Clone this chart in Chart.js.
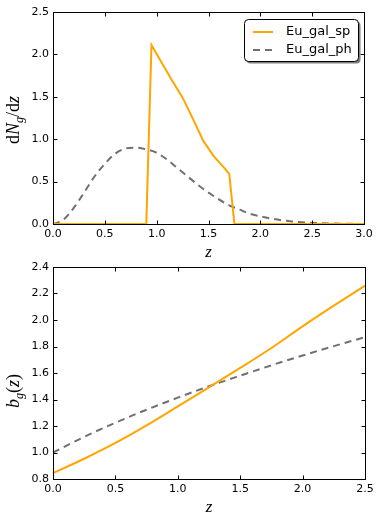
<!DOCTYPE html>
<html>
<head>
<meta charset="utf-8">
<script src="https://cdn.jsdelivr.net/npm/chart.js@4/dist/chart.umd.min.js"></script>
<style>
  body { margin: 0; background: #fff; }
  #wrap { position: relative; width: 382px; height: 524px; }
  canvas { position: absolute; left: 0; }
</style>
</head>
<body>
<div id="wrap">
  <canvas id="chartTop" width="382" height="262" style="top:0px"></canvas>
  <canvas id="chartBot" width="382" height="272" style="top:252px"></canvas>
</div>
<script>
// ---- data ----
const seriesNames = ['Eu_gal_sp', 'Eu_gal_ph'];

// top panel: dN/dz
const spZ = [0.0, 0.90, 0.95, 1.05, 1.15, 1.25, 1.35, 1.45, 1.55, 1.65, 1.70, 1.75, 3.0];
const spN = [0, 0, 2.11, 1.90, 1.69, 1.49, 1.24, 0.98, 0.80, 0.665, 0.59, 0, 0];

const phZ = [0.0, 0.1, 0.2, 0.3, 0.4, 0.5, 0.6, 0.7, 0.8, 0.9, 1.0, 1.1, 1.2, 1.3, 1.4, 1.5,
             1.6, 1.7, 1.8, 1.9, 2.0, 2.1, 2.2, 2.3, 2.4, 2.5, 2.6, 2.7, 2.8, 2.9, 3.0];
const phN = [0.0, 0.05, 0.19, 0.37, 0.56, 0.71, 0.83, 0.89, 0.90, 0.88, 0.84, 0.76, 0.66, 0.56, 0.46, 0.37,
             0.29, 0.22, 0.17, 0.12, 0.09, 0.065, 0.045, 0.03, 0.02, 0.013, 0.008, 0.005, 0.003, 0.002, 0.001];

// bottom panel: bias
const biasZ = [0, 0.25, 0.5, 0.75, 1.0, 1.25, 1.5, 1.75, 2.0, 2.25, 2.5];
const biasSp = [0.845, 0.953, 1.072, 1.205, 1.348, 1.492, 1.638, 1.789, 1.952, 2.108, 2.259];
const biasPh = [1.0, 1.118, 1.225, 1.323, 1.414, 1.5, 1.58, 1.658, 1.732, 1.803, 1.87];

const topXTicks = [0, 0.5, 1.0, 1.5, 2.0, 2.5, 3.0];
const topYTicks = [0, 0.5, 1.0, 1.5, 2.0, 2.5];
const botXTicks = [0, 0.5, 1.0, 1.5, 2.0, 2.5];
const botYTicks = [0.8, 1.0, 1.2, 1.4, 1.6, 1.8, 2.0, 2.2, 2.4];

const ORANGE = '#ffa500';
const GREY = '#707070';
const DASH = [7, 5];

function pts(xs, ys) {
  return xs.map((x, i) => ({ x: x, y: ys[i] }));
}

// matplotlib-ish frame, inward ticks on all four sides, axis titles
const framePlugin = {
  id: 'frame',
  afterDraw(chart, args, opts) {
    const ctx = chart.ctx;
    const a = chart.chartArea;
    const sx = chart.scales.x, sy = chart.scales.y;
    const L = Math.round(a.left) + 0.5, R = Math.round(a.right) + 0.5;
    const T = Math.round(a.top) + 0.5, B = Math.round(a.bottom) + 0.5;
    ctx.save();
    ctx.strokeStyle = '#000';
    ctx.lineWidth = 1;
    ctx.strokeRect(L, T, R - L, B - T);
    ctx.beginPath();
    opts.xTicks.forEach(v => {
      const p = Math.round(sx.getPixelForValue(v)) + 0.5;
      ctx.moveTo(p, B); ctx.lineTo(p, B - 4);
      ctx.moveTo(p, T); ctx.lineTo(p, T + 4);
    });
    opts.yTicks.forEach(v => {
      const p = Math.round(sy.getPixelForValue(v)) + 0.5;
      ctx.moveTo(L, p); ctx.lineTo(L + 4, p);
      ctx.moveTo(R, p); ctx.lineTo(R - 4, p);
    });
    ctx.stroke();

    // x title
    ctx.fillStyle = '#000';
    ctx.font = 'italic 17px "Liberation Serif"';
    ctx.textAlign = 'center';
    ctx.textBaseline = 'alphabetic';
    ctx.fillText('z', (a.left + a.right) / 2, a.bottom + 33);

    // y title, rotated, made of pieces
    const parts = opts.yTitle;
    const fontOf = p => (p.it ? 'italic ' : '') + (p.sub ? 12 : 18) + 'px "Liberation Serif"';
    let w = 0;
    parts.forEach(p => { ctx.font = fontOf(p); p.w = ctx.measureText(p.t).width; w += p.w; });
    ctx.translate(19, opts.yCenter);
    ctx.rotate(-Math.PI / 2);
    ctx.textAlign = 'left';
    let x = -w / 2;
    parts.forEach(p => {
      ctx.font = fontOf(p);
      ctx.fillText(p.t, x, p.sub ? 4 : 0);
      x += p.w;
    });
    ctx.restore();
  }
};

// legend box with rounded corners and shadow
const legendPlugin = {
  id: 'boxLegend',
  afterDraw(chart, args, opts) {
    if (!opts.show) return;
    const ctx = chart.ctx;
    const x0 = 244, y0 = 19, w = 114, h = 42, r = 4;
    const rr = (x, y) => {
      ctx.beginPath();
      ctx.roundRect(x, y, w, h, r);
    };
    ctx.save();
    ctx.fillStyle = '#7f7f7f';
    rr(x0 + 2.5, y0 + 2.5); ctx.fill();
    ctx.fillStyle = '#fff';
    rr(x0 + 0.5, y0 + 0.5); ctx.fill();
    ctx.strokeStyle = '#000'; ctx.lineWidth = 1;
    ctx.stroke();
    ctx.font = '13px "DejaVu Sans"';
    ctx.textBaseline = 'middle';
    ctx.fillStyle = '#000';
    chart.data.datasets.forEach((ds, i) => {
      const y = y0 + 13 + i * 18;
      ctx.strokeStyle = ds.borderColor;
      ctx.lineWidth = 2;
      ctx.setLineDash(ds.borderDash || []);
      ctx.beginPath();
      ctx.moveTo(253, y); ctx.lineTo(273, y);
      ctx.stroke();
      ctx.setLineDash([]);
      ctx.fillText(ds.label, 286, y);
    });
    ctx.restore();
  }
};

function scaleOpts(min, max, step, fitSize, horizontal) {
  return {
    type: 'linear',
    min: min, max: max,
    grid: { display: false, drawTicks: false },
    border: { display: false },
    ticks: {
      stepSize: step,
      color: '#000',
      padding: 4,
      maxRotation: 0,
      autoSkip: false,
      font: { family: 'DejaVu Sans', size: 11 },
      callback: v => Number(v).toFixed(1)
    },
    afterFit: s => {
      if (horizontal) { s.height = fitSize; s.paddingLeft = 0; s.paddingRight = 0; }
      else { s.width = fitSize; s.paddingTop = 0; s.paddingBottom = 0; }
    }
  };
}

function makeChart(id, datasets, o) {
  return new Chart(document.getElementById(id), {
    type: 'line',
    data: { datasets: datasets },
    options: {
      responsive: false,
      animation: false,
      devicePixelRatio: 1,
      layout: { padding: o.pad },
      elements: { point: { radius: 0 } },
      scales: {
        x: scaleOpts(o.xMin, o.xMax, 0.5, o.xFit, true),
        y: scaleOpts(o.yMin, o.yMax, o.yStep, 53, false)
      },
      plugins: {
        legend: { display: false },
        tooltip: { enabled: false },
        frame: { xTicks: o.xTicks, yTicks: o.yTicks, yTitle: o.yTitle, yCenter: o.yCenter },
        boxLegend: { show: o.legend }
      }
    },
    plugins: [framePlugin, legendPlugin]
  });
}

makeChart('chartTop', [
  { label: seriesNames[0], data: pts(spZ, spN), borderColor: ORANGE, borderWidth: 2, tension: 0, clip: 3 },
  { label: seriesNames[1], data: pts(phZ, phN), borderColor: GREY, borderWidth: 2, borderDash: DASH,
    cubicInterpolationMode: 'monotone', clip: 3 }
], {
  pad: { left: 0, top: 12, right: 18, bottom: 0 },
  xMin: 0, xMax: 3, xFit: 38,
  yMin: 0, yMax: 2.5, yStep: 0.5,
  xTicks: topXTicks, yTicks: topYTicks,
  yTitle: [{ t: 'd' }, { t: 'N', it: true }, { t: 'g', it: true, sub: true }, { t: '/d' }, { t: 'z', it: true }],
  yCenter: 120,
  legend: true
});

makeChart('chartBot', [
  { label: seriesNames[0], data: pts(biasZ, biasSp), borderColor: ORANGE, borderWidth: 2,
    cubicInterpolationMode: 'monotone', clip: 3 },
  { label: seriesNames[1], data: pts(biasZ, biasPh), borderColor: GREY, borderWidth: 2, borderDash: DASH,
    cubicInterpolationMode: 'monotone', clip: 3 }
], {
  pad: { left: 0, top: 15, right: 17, bottom: 0 },
  xMin: 0, xMax: 2.5, xFit: 45,
  yMin: 0.8, yMax: 2.4, yStep: 0.2,
  xTicks: botXTicks, yTicks: botYTicks,
  yTitle: [{ t: 'b', it: true }, { t: 'g', it: true, sub: true }, { t: '(' }, { t: 'z', it: true }, { t: ')' }],
  yCenter: 139,
  legend: false
});
</script>
</body>
</html>
